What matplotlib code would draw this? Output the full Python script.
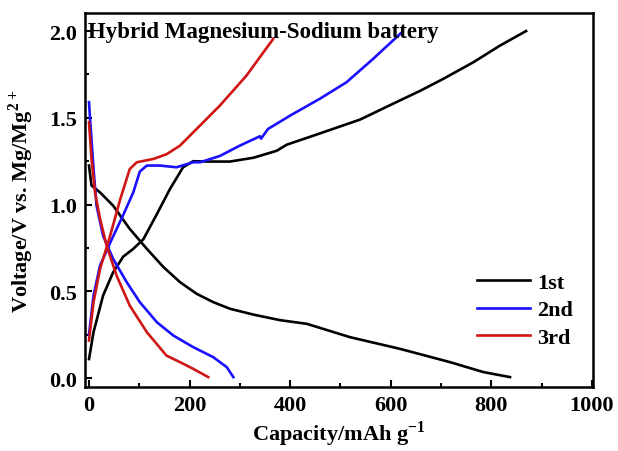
import matplotlib

matplotlib.use("Agg")
import matplotlib.pyplot as plt
from matplotlib.ticker import MultipleLocator

plt.rcParams["font.family"] = ["Liberation Serif", "DejaVu Serif"]
plt.rcParams["font.weight"] = "bold"
plt.rcParams["mathtext.fontset"] = "custom"
plt.rcParams["mathtext.rm"] = "Liberation Serif:bold"
plt.rcParams["mathtext.bf"] = "Liberation Serif:bold"

# charge / discharge curves (capacity mAh/g, voltage V)
cap_1st_dis = [0, 5, 22, 48, 81, 115, 148, 181, 214, 247, 280, 327, 380, 433, 519, 618, 718, 784, 837]
v_1st_dis = [1.225, 1.11, 1.07, 0.994, 0.86, 0.745, 0.64, 0.553, 0.486, 0.438, 0.40, 0.366, 0.334,
             0.313, 0.236, 0.169, 0.092, 0.035, 0.006]
cap_1st_chg = [0, 9, 28, 48, 68, 88, 108, 134, 161, 187, 207, 240, 280, 327, 373, 393, 459, 539,
               618, 658, 704, 764, 817, 869]
v_1st_chg = [0.11, 0.265, 0.476, 0.61, 0.70, 0.745, 0.80, 0.94, 1.09, 1.215, 1.25, 1.248, 1.248,
             1.27, 1.31, 1.345, 1.41, 1.49, 1.60, 1.655, 1.724, 1.82, 1.916, 2.0]

cap_2nd_dis = [0, 2, 9, 15, 28, 48, 75, 101, 135, 168, 207, 247, 274, 287]
v_2nd_dis = [1.59, 1.50, 1.205, 0.994, 0.82, 0.687, 0.553, 0.438, 0.322, 0.245, 0.179, 0.121, 0.063, 0.006]
cap_2nd_chg = [0, 9, 22, 42, 68, 88, 101, 115, 141, 174, 207, 221, 260, 300, 340, 342, 356, 400,
               459, 512, 565, 622]
v_2nd_chg = [0.25, 0.476, 0.65, 0.78, 0.94, 1.07, 1.19, 1.225, 1.225, 1.215, 1.244, 1.244, 1.28,
             1.34, 1.394, 1.38, 1.436, 1.513, 1.61, 1.705, 1.84, 1.993]

cap_3rd_dis = [0, 5, 12, 22, 35, 55, 81, 115, 154, 181, 207, 237]
v_3rd_dis = [1.475, 1.263, 1.07, 0.918, 0.764, 0.59, 0.418, 0.265, 0.13, 0.092, 0.054, 0.006]
cap_3rd_chg = [0, 9, 22, 42, 62, 81, 95, 128, 154, 181, 214, 260, 313, 366]
v_3rd_chg = [0.217, 0.438, 0.63, 0.82, 1.03, 1.205, 1.244, 1.263, 1.29, 1.34, 1.436, 1.57, 1.743, 1.954]

fig = plt.figure(figsize=(6.18, 4.52), dpi=100)
ax = fig.add_axes([0.1375, 0.142, 0.822, 0.827])

lw = 1.9
ax.plot(cap_1st_dis, v_1st_dis, color="black", lw=lw, label="1st")
ax.plot(cap_1st_chg, v_1st_chg, color="black", lw=lw)
ax.plot(cap_2nd_dis, v_2nd_dis, color="#1a0fff", lw=lw, label="2nd")
ax.plot(cap_2nd_chg, v_2nd_chg, color="#1a0fff", lw=lw)
ax.plot(cap_3rd_dis, v_3rd_dis, color="#d01515", lw=lw, label="3rd")
ax.plot(cap_3rd_chg, v_3rd_chg, color="#d01515", lw=lw)

ax.set_xlim(-8, 1002)
ax.set_ylim(-0.05, 2.104)
ax.xaxis.set_major_locator(MultipleLocator(200))
ax.xaxis.set_minor_locator(MultipleLocator(100))
ax.yaxis.set_major_locator(MultipleLocator(0.5))
ax.yaxis.set_minor_locator(MultipleLocator(0.25))
ax.tick_params(which="both", direction="in", width=1.5, labelsize=16, pad=6)
ax.tick_params(which="major", length=5)
ax.tick_params(which="minor", length=3)
for s in ax.spines.values():
    s.set_linewidth(1.8)

ax.set_xlabel("Capacity/mAh g$^{-1}$", fontsize=16, fontweight="bold")
ax.set_ylabel("Voltage/V vs. Mg/Mg$^{2+}$", fontsize=16, fontweight="bold")
ax.xaxis.set_label_coords(0.5, -0.085)
ax.yaxis.set_label_coords(-0.096, 0.5)

ax.text(-2, 1.995, "Hybrid Magnesium-Sodium battery", fontsize=16.5, fontweight="bold",
        va="center", ha="left")

ax.legend(loc="lower right", bbox_to_anchor=(0.96, 0.105), frameon=False, fontsize=16,
          handlelength=2.4, handletextpad=0.3, labelspacing=0.3, borderpad=0, borderaxespad=0)

fig.savefig("out.png", dpi=100)
